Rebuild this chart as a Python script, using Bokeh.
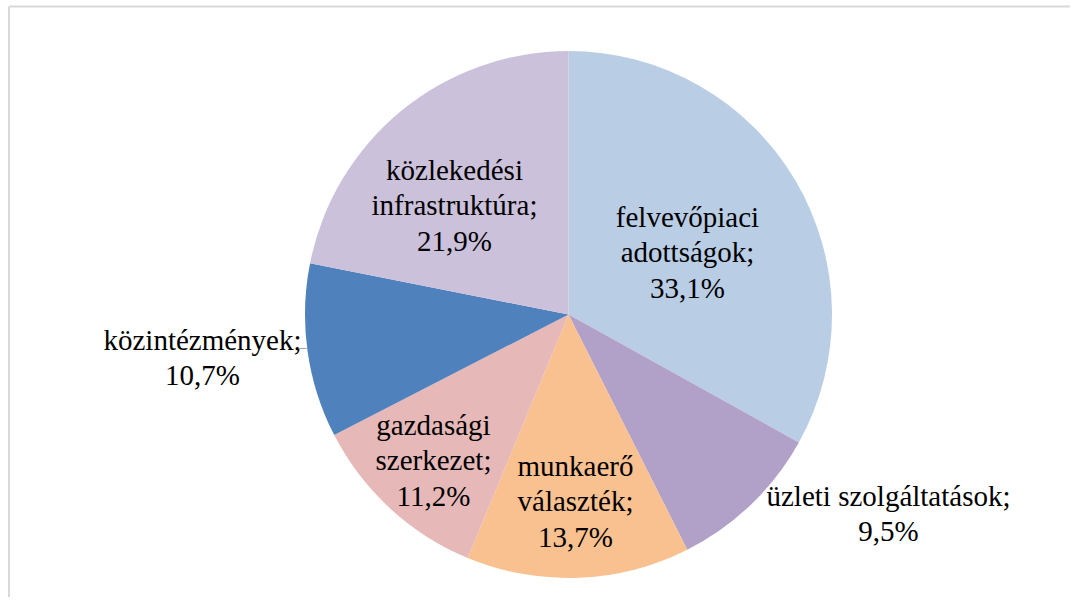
import math
from bokeh.plotting import figure
from bokeh.models import Range1d, ColumnDataSource
from bokeh.core.properties import value
from bokeh.embed import file_html
from bokeh.resources import INLINE

# ---- data ----
categories = ["felvevőpiaci\nadottságok", "üzleti szolgáltatások", "munkaerő\nválaszték",
              "gazdasági\nszerkezet", "közintézmények", "közlekedési\ninfrastruktúra"]
shares = [33.1, 9.5, 13.7, 11.2, 10.7, 21.9]
colors = ["#B9CDE5", "#B1A0C7", "#F9C090", "#E6B9B8", "#4F81BD", "#CCC1DA"]

# ---- layout (pixel space: x = screen x, y = -screen y) ----
W, H = 1070, 597
cx, cy, r = 568, -314, 263.5
label_pos = [(687, -252), (888, -513), (575, -501), (433, -460), (202, -357), (454, -205)]

p = figure(width=W, height=H, x_range=Range1d(0, W), y_range=Range1d(-H, 0),
           output_backend="svg", toolbar_location=None, min_border=0)
p.axis.visible = False
p.grid.visible = False
p.outline_line_color = None
p.background_fill_color = "white"

total = sum(shares)
starts, ends = [], []
acc = 0.0
for s in shares:
    a0 = math.pi / 2 - 2 * math.pi * acc / total
    acc += s
    a1 = math.pi / 2 - 2 * math.pi * acc / total
    starts.append(a0)
    ends.append(a1)

src = ColumnDataSource(dict(start=starts, end=ends, color=colors,
                            x=[cx] * len(shares), y=[cy] * len(shares)))
p.wedge(x="x", y="y", radius=r, start_angle="start", end_angle="end",
        direction="clock", fill_color="color", line_color=None, source=src)

texts = []
for c, s in zip(categories, shares):
    pct = f"{s:.1f}".replace(".", ",") + "%"
    texts.append(f"{c};\n{pct}")
lsrc = ColumnDataSource(dict(x=[q[0] for q in label_pos], y=[q[1] for q in label_pos], t=texts))
p.text(x="x", y="y", text="t", source=lsrc, text_align="center", text_baseline="middle",
       text_font=value("Liberation Serif"), text_font_size="29px",
       text_color="#000000", text_line_height=1.1)

# small leader line for közintézmények
p.segment(x0=[298], y0=[-348], x1=[307], y1=[-348], line_color="#A6A6A6", line_width=1)

# chart frame (left and top edges visible)
p.segment(x0=[8.5, 8.5], y0=[-6, -6], x1=[8.5, W], y1=[-H, -6], line_color="#D9D9D9", line_width=2)

open("out.html", "w").write(file_html(p, INLINE))
